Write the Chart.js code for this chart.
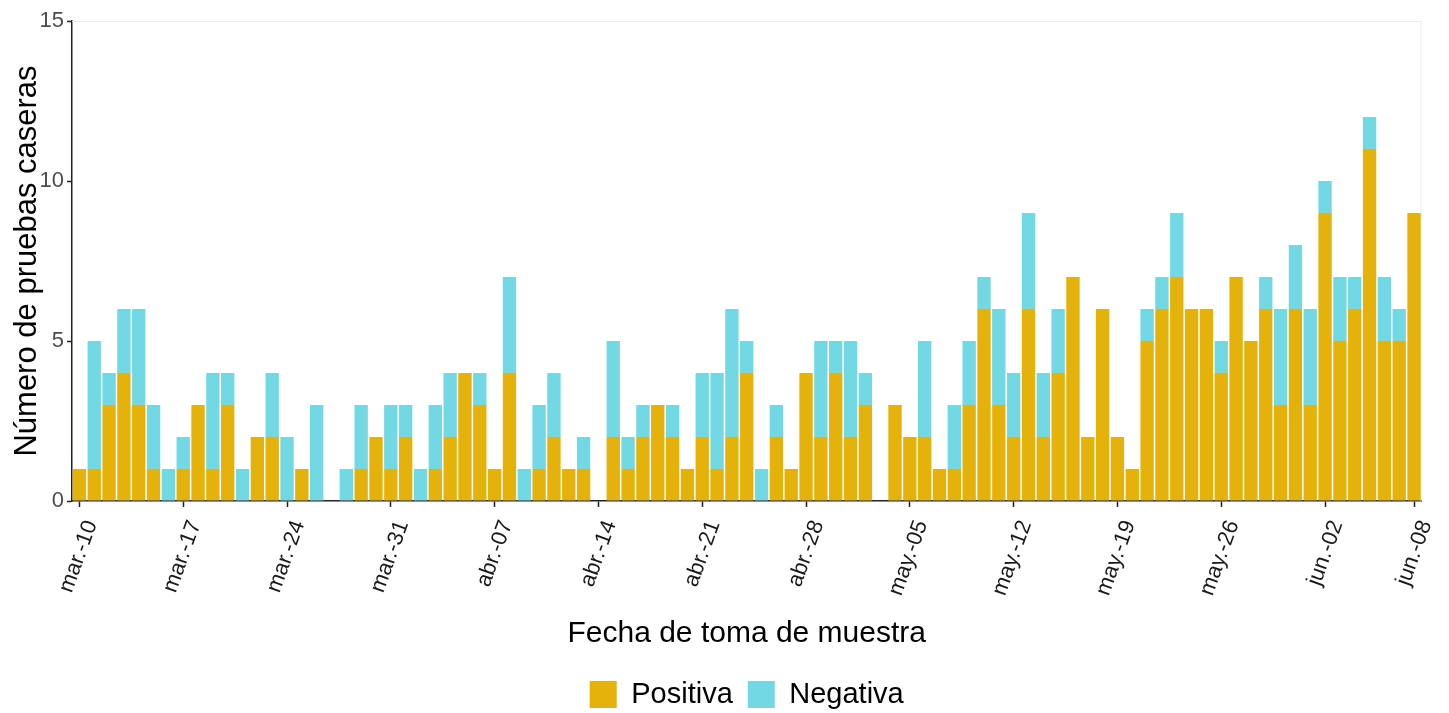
<!DOCTYPE html>
<html>
<head>
<meta charset="utf-8">
<script src="https://cdn.jsdelivr.net/npm/chart.js@4"></script>
<style>
  html, body { margin: 0; padding: 0; background: #fff; }
  #wrap { width: 1449px; height: 713px; }
</style>
</head>
<body>
<div id="wrap"><canvas id="chart" width="1449" height="713"></canvas></div>
<script>
// Daily home tests, mar-10 .. jun-08 (91 days)
const startDate = new Date(2022, 2, 10)
const dayCount = 91
const monthNames = ['ene.', 'feb.', 'mar.', 'abr.', 'may.', 'jun.', 'jul.', 'ago.', 'sep.', 'oct.', 'nov.', 'dic.']

const positiva = [
  1, 1, 3, 4, 3, 1, 0, 1, 3, 1, 3, 0, 2, 2, 0, 1, 0, 0, 0, 1,
  2, 1, 2, 0, 1, 2, 4, 3, 1, 4, 0, 1, 2, 1, 1, 0, 2, 1, 2, 3,
  2, 1, 2, 1, 2, 4, 0, 2, 1, 4, 2, 4, 2, 3, 0, 3, 2, 2, 1, 1,
  3, 6, 3, 2, 6, 2, 4, 7, 2, 6, 2, 1, 5, 6, 7, 6, 6, 4, 7, 5,
  6, 3, 6, 3, 9, 5, 6, 11, 5, 5, 9
]
const negativa = [
  0, 4, 1, 2, 3, 2, 1, 1, 0, 3, 1, 1, 0, 2, 2, 0, 3, 0, 1, 2,
  0, 2, 1, 1, 2, 2, 0, 1, 0, 3, 1, 2, 2, 0, 1, 0, 3, 1, 1, 0,
  1, 0, 2, 3, 4, 1, 1, 1, 0, 0, 3, 1, 3, 1, 0, 0, 0, 3, 0, 2,
  2, 1, 3, 2, 3, 2, 2, 0, 0, 0, 0, 0, 1, 1, 2, 0, 0, 1, 0, 0,
  1, 3, 2, 3, 1, 2, 1, 1, 2, 1, 0
]

const fechas = []
for (let i = 0; i < dayCount; i++) {
  const d = new Date(startDate.getFullYear(), startDate.getMonth(), startDate.getDate() + i)
  fechas.push(`${monthNames[d.getMonth()]}-${String(d.getDate()).padStart(2, '0')}`)
}

// labelled ticks: every 7 days plus the last day
const tickEvery = 7

const fontFamily = '"Liberation Sans", Arial, Helvetica, sans-serif'

// faint panel border on top and right
const panelBorder = {
  id: 'panelBorder',
  beforeDatasetsDraw(chart) {
    const { ctx, chartArea } = chart
    ctx.save()
    ctx.strokeStyle = '#ebebeb'
    ctx.lineWidth = 1
    ctx.beginPath()
    ctx.moveTo(chartArea.left, chartArea.top + 0.5)
    ctx.lineTo(chartArea.right - 0.5, chartArea.top + 0.5)
    ctx.lineTo(chartArea.right - 0.5, chartArea.bottom)
    ctx.stroke()
    ctx.restore()
  }
}

new Chart(document.getElementById('chart'), {
  type: 'bar',
  data: {
    labels: fechas,
    datasets: [
      {
        label: 'Positiva',
        data: positiva,
        backgroundColor: '#E5B10B',
        borderWidth: 0,
        barPercentage: 0.9,
        categoryPercentage: 1
      },
      {
        label: 'Negativa',
        data: negativa,
        backgroundColor: '#72D9E4',
        borderWidth: 0,
        barPercentage: 0.9,
        categoryPercentage: 1
      }
    ]
  },
  options: {
    responsive: false,
    animation: false,
    layout: {
      padding: { top: 21, right: 27, left: 0, bottom: 0 }
    },
    plugins: {
      tooltip: { enabled: false },
      legend: {
        display: true,
        position: 'bottom',
        fullSize: false,
        maxHeight: 48,
        labels: {
          boxWidth: 27,
          boxHeight: 27,
          padding: 15,
          color: '#000',
          font: { size: 29, family: fontFamily }
        }
      }
    },
    scales: {
      x: {
        stacked: true,
        offset: true,
        afterFit: scale => { scale.height = 164 },
        border: { display: true, color: '#222', width: 1.5 },
        grid: {
          display: true,
          drawOnChartArea: false,
          drawTicks: true,
          tickLength: 6,
          tickWidth: 1.5,
          offset: false,
          color: '#222'
        },
        ticks: {
          autoSkip: false,
          maxRotation: 70,
          minRotation: 70,
          padding: 10,
          labelOffset: 12,
          color: '#1a1a1a',
          font: { size: 22, family: fontFamily },
          callback: function (value, index) {
            if (index % tickEvery === 0 || index === dayCount - 1) return this.getLabelForValue(value)
            return null
          }
        },
        title: {
          display: true,
          text: 'Fecha de toma de muestra',
          color: '#000',
          font: { size: 30, family: fontFamily },
          padding: { top: 0, bottom: 13 }
        }
      },
      y: {
        stacked: true,
        min: 0,
        max: 15,
        afterFit: scale => { scale.width = 72 },
        border: { display: true, color: '#222', width: 1.5 },
        grid: {
          display: true,
          drawOnChartArea: false,
          drawTicks: true,
          tickLength: 5,
          tickWidth: 1.5,
          color: '#222'
        },
        ticks: {
          stepSize: 5,
          padding: 3,
          color: '#4d4d4d',
          font: { size: 22, family: fontFamily }
        },
        title: {
          display: true,
          text: 'Número de pruebas caseras',
          color: '#000',
          font: { size: 31, family: fontFamily },
          padding: { top: 9, bottom: 0 }
        }
      }
    }
  },
  plugins: [panelBorder]
})
</script>
</body>
</html>
